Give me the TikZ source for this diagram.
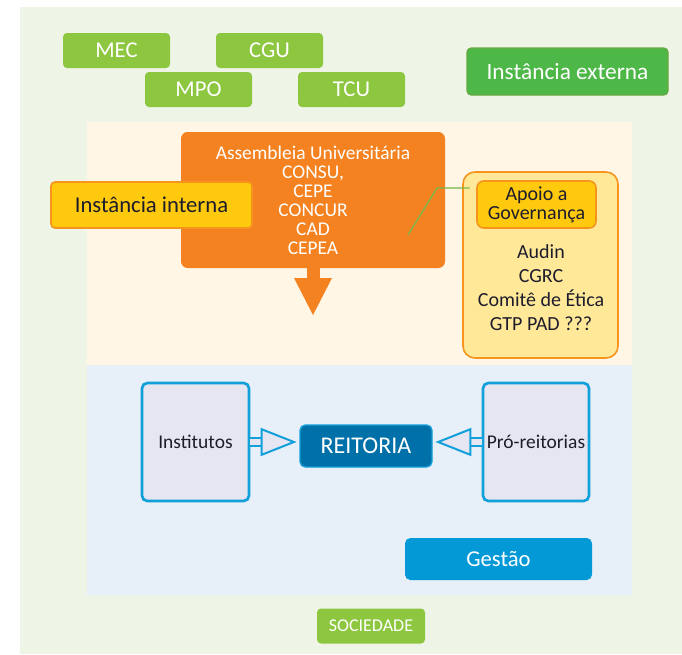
\documentclass[tikz,border=0pt]{standalone}
\usepackage{fontspec}
\setmainfont{Carlito}
\usetikzlibrary{positioning,arrows.meta}

\definecolor{bgouter}{RGB}{238,245,230}
\definecolor{bginterna}{RGB}{255,246,229}
\definecolor{bggestao}{RGB}{231,239,248}
\definecolor{verdeorgao}{RGB}{141,198,63}
\definecolor{verdeext}{RGB}{77,184,72}
\definecolor{verdeborda}{RGB}{104,168,64}
\definecolor{laranja}{RGB}{245,130,32}
\definecolor{amarelo}{RGB}{255,201,14}
\definecolor{amareloclaro}{RGB}{255,233,153}
\definecolor{bordalaranja}{RGB}{247,148,30}
\definecolor{azulborda}{RGB}{18,160,218}
\definecolor{azulreit}{RGB}{0,112,168}
\definecolor{azulgestao}{RGB}{3,152,214}
\definecolor{lavanda}{RGB}{230,230,242}
\definecolor{textoesc}{RGB}{28,28,44}
\definecolor{linhaverde}{RGB}{122,182,72}

\begin{document}
\begin{tikzpicture}[x=0.75pt, y=-0.75pt,
  caixa/.style={rounded corners=3pt, inner sep=0pt, align=center},
  orgaoext/.style={caixa, fill=verdeorgao, text=white,
    minimum width=80.25pt, minimum height=26.25pt,
    font=\fontsize{17}{20}\selectfont},
  rotulo/.style={caixa, text=textoesc, draw=bordalaranja, line width=1.2pt,
    fill=amarelo},
  unidade/.style={caixa, rounded corners=4pt, draw=azulborda, line width=2pt,
    fill=lavanda, text=textoesc, minimum width=80.25pt, minimum height=88.5pt,
    font=\fontsize{14.6}{17}\selectfont},
  setavazada/.style={draw=azulborda, line width=1.5pt, double=lavanda,
    double distance=5pt, shorten >=2pt,
    -{Triangle[length=27pt, width=21pt, fill=lavanda, line width=1.5pt]}},
  setabaixo/.style={draw=laranja, line width=9.75pt,
    -{Triangle[length=27.75pt, width=28.5pt, line width=0pt]}},
  chamada/.style={draw=linhaverde, line width=1pt, shorten >=5pt}
]

% ── Frame and bands (pixel units, y down) ────────────────────
\useasboundingbox (0,0) rectangle (682,654);
\fill[bgouter]   (20,7)   rectangle (682,654);
\fill[bginterna] (87,122) rectangle (632,365);
\fill[bggestao]  (87,365) rectangle (632,595);

% ── External bodies ──────────────────────────────────────────
\foreach \nm/\cx/\cy/\lbl in {
    mec/116.5/50.5/MEC, cgu/269.5/50.5/CGU,
    mpo/198.5/89.5/MPO, tcu/351.5/89.5/TCU} {
    \node[orgaoext] (\nm) at (\cx,\cy) {\lbl};
}
\node[caixa, fill=verdeext, draw=verdeborda, line width=0.8pt, text=white,
      minimum width=150.75pt, minimum height=35.25pt,
      font=\fontsize{17.5}{20}\selectfont] (externa) at (567.5,71.5)
      {Instância externa};

% ── Internal bodies ──────────────────────────────────────────
\node[caixa, rounded corners=5pt, fill=laranja, text=white,
      minimum width=198pt, minimum height=102pt,
      font=\fontsize{14.6}{14.3}\selectfont] (conselhos) at (313,200)
      {Assembleia Universitária\\CONSU,\\CEPE\\CONCUR\\CAD\\CEPEA};
\node[rotulo, minimum width=150.75pt, minimum height=34.5pt,
      font=\fontsize{17}{20}\selectfont] (interna) at (151.5,205)
      {Instância interna};

\coordinate (setafim) at (313,315);
\draw[setabaixo] (conselhos.south) -- (setafim);

% ── Support to governance ────────────────────────────────────
\node[caixa, rounded corners=9pt, fill=amareloclaro, draw=bordalaranja,
      line width=1.2pt, minimum width=116.25pt, minimum height=139.5pt]
      (apoiobox) at (540.5,265) {};
\node[rotulo, rounded corners=5pt, minimum width=89.25pt, minimum height=35.25pt,
      font=\fontsize{15}{14.5}\selectfont] (apoio) at (536.5,204.5)
      {Apoio a\\Governança};
\node[align=center, text=textoesc, inner sep=0pt,
      font=\fontsize{15}{18}\selectfont] (orgaos) at (541,288)
      {Audin\\CGRC\\Comitê de Ética\\GTP PAD ???};

\coordinate (chamadape)    at (408,235);
\coordinate (chamadajoelho) at (437,188);
\draw[chamada] (chamadape) -- (chamadajoelho) -- (apoio.west |- chamadajoelho);

% ── Management ───────────────────────────────────────────────
\node[unidade] (institutos) at (195.5,442) {Institutos};
\node[unidade, minimum width=79.5pt] (proreit) at (536,442) {Pró-reitorias};
\node[caixa, rounded corners=4pt, fill=azulreit, draw=azulborda, line width=1pt,
      text=white, minimum width=99pt, minimum height=31.5pt,
      font=\fontsize{18}{20}\selectfont] (reitoria) at (366,446) {REITORIA};

\draw[setavazada] (institutos.east) -- (institutos.east -| reitoria.west);
\draw[setavazada] (proreit.west) -- (proreit.west -| reitoria.east);

\node[caixa, rounded corners=4pt, fill=azulgestao, text=white,
      minimum width=140.25pt, minimum height=31.5pt,
      font=\fontsize{17}{20}\selectfont] (gestao) at (498.5,559) {Gestão};

% ── Society ──────────────────────────────────────────────────
\node[orgaoext, minimum width=81pt, font=\fontsize{13.5}{16}\selectfont]
      (sociedade) at (371,626) {SOCIEDADE};

\end{tikzpicture}
\end{document}
